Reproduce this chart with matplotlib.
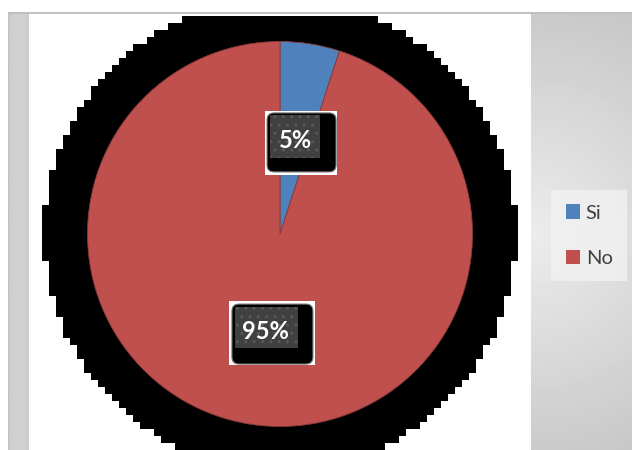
import numpy as np
import matplotlib
matplotlib.use("Agg")
import matplotlib.pyplot as plt
from matplotlib.patches import Rectangle, FancyBboxPatch
from matplotlib.colors import ListedColormap

plt.rcParams['font.family'] = ['Lato', 'DejaVu Sans']

# data
labels = ['Si', 'No']
values = [5, 95]
colors = ['#4F81BD', '#C0504D']

W, H = 632, 450
fig = plt.figure(figsize=(W / 100, H / 100), dpi=100)
ax = fig.add_axes([0, 0, 1, 1])
ax.set_axis_off()

# frame / backgrounds (pixel coordinates, y measured from bottom)
ax.add_patch(Rectangle((8, 0), W - 8, H - 12, facecolor='#c0c0c0', edgecolor='none', zorder=0))
ax.add_patch(Rectangle((9, 0), W - 9, H - 14, facecolor='white', edgecolor='none', zorder=0.1))
lx = np.linspace(0, 1, 20)
left = np.tile(0.80 + 0.02 * np.sin(lx * np.pi), (2, 1))
ax.imshow(left, cmap='gray', vmin=0, vmax=1, extent=(9, 29, 0, H - 14),
          aspect='auto', zorder=0.2, interpolation='bilinear')
gx, gy = np.meshgrid(np.arange(531, W) + 0.5, np.arange(14, H) + 0.5)
d = np.hypot(gx - 531, gy - 235)
right = (236 - 42 * np.clip(d / 270, 0, 1)) / 255
ax.imshow(right, cmap='gray', vmin=0, vmax=1, extent=(531, W, 0, H - 14),
          aspect='auto', zorder=0.2, origin='upper')

# pixel-stepped black ring behind the pie
cx, cy, r_out, step = 280, H - 234, 238, 7
xs = np.arange(cx - r_out, cx + r_out, step) + step / 2
ys = np.arange(H - 16, -step, -step) - step / 2
mx, my = np.meshgrid(xs, ys)
mask = (np.hypot(mx - cx, my - cy) <= r_out - 2).astype(float)
ax.imshow(mask, cmap=ListedColormap([(0, 0, 0, 0), (0, 0, 0, 1)]), vmin=0, vmax=1,
          extent=(xs[0] - step / 2, xs[-1] + step / 2, ys[-1] - step / 2, ys[0] + step / 2),
          aspect='auto', interpolation='nearest', zorder=1)

wedges, texts, autotexts = ax.pie(
    values, colors=colors, startangle=90, counterclock=False,
    center=(cx, cy), radius=192.5, autopct='%1.0f%%', pctdistance=0.5,
    wedgeprops=dict(linewidth=0.6, edgecolor='#8a3a38'),
    textprops=dict(color='white', fontsize=17, fontweight='bold'))
for w in wedges:
    w.set_zorder(2)

# label boxes: (white box, black rounded box, grey box) offsets from text centre
boxes = {
    '5%': ((-30, 42, -28, 36), (-28, 41, -26, 33), (-25, 25, -24, 19)),
    '95%': ((-36, 50, -28, 36), (-33, 48, -25, 35), (-30, 33, -22, 19)),
}
for t in autotexts:
    tx, ty = t.get_position()
    t.set_zorder(6)
    t.set_ha('center')
    t.set_va('center_baseline')
    (a, b, c, e), (a2, b2, c2, e2), (a3, b3, c3, e3) = boxes[t.get_text()]
    ax.add_patch(Rectangle((tx + a, ty - e), b - a, e - c, facecolor='white',
                           edgecolor='none', zorder=3))
    ax.add_patch(FancyBboxPatch((tx + a2, ty - e2), b2 - a2, e2 - c2,
                                boxstyle='round,pad=0,rounding_size=7',
                                facecolor='black', edgecolor='#777777',
                                linewidth=0.8, zorder=4))
    ax.add_patch(Rectangle((tx + a3, ty - e3), b3 - a3, e3 - c3, facecolor='#404040',
                           edgecolor='#585858', linewidth=0, hatch='..', zorder=5))

leg = ax.legend(wedges, labels, loc='upper left', bbox_to_anchor=(551 / W, 1 - 190 / H),
                frameon=True, fontsize=14.5, handlelength=0.7, handleheight=0.7,
                handletextpad=0.3, labelspacing=1.4, borderpad=0.72,
                borderaxespad=0, labelcolor='#404040')
leg.get_frame().set_facecolor('#f2f2f2')
leg.get_frame().set_edgecolor('none')
leg.get_frame().set_boxstyle('square', pad=0)
for h in leg.legend_handles:
    h.set_linewidth(0)
leg.set_zorder(7)

ax.set_xlim(0, W)
ax.set_ylim(0, H)
ax.set_aspect('auto')
fig.savefig('out.png', dpi=100)
